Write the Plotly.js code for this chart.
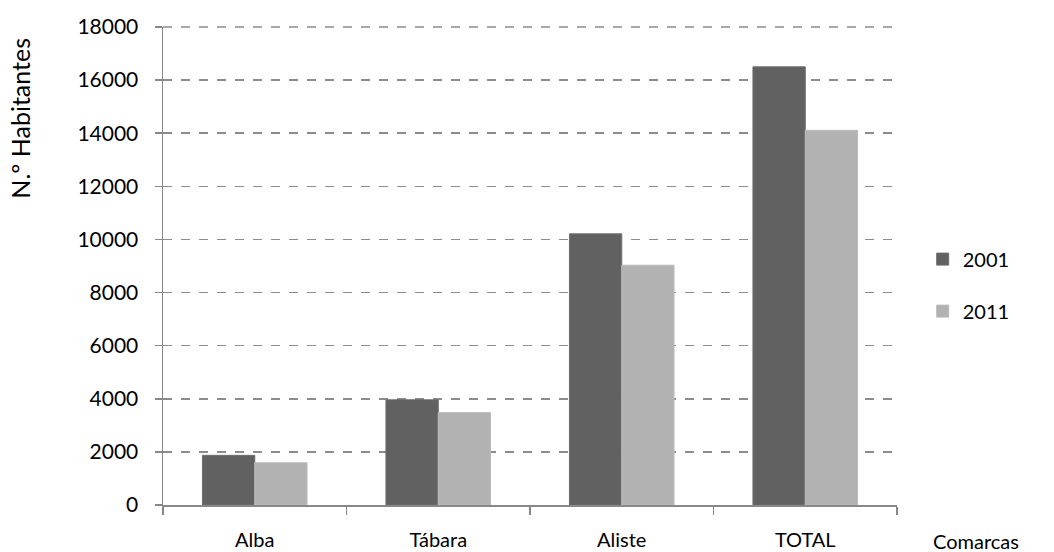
<!DOCTYPE html>
<html>
<head>
<meta charset="utf-8">
<script src="https://cdn.plot.ly/plotly-3.0.1.min.js"></script>
<style>html,body{margin:0;padding:0;background:#fff;}#chart{width:1054px;height:552px;}</style>
</head>
<body>
<div id="chart"></div>
<script>
const categories = ["Alba", "Tábara", "Aliste", "TOTAL"];
const values2001 = [1870, 3960, 10210, 16500];
const values2011 = [1590, 3480, 9030, 14110];
const seriesNames = ["2001", "2011"];
const yTicks = [0, 2000, 4000, 6000, 8000, 10000, 12000, 14000, 16000, 18000];

const FONT = "Lato, 'Open Sans', sans-serif";
const traces = [
  {type: "bar", name: seriesNames[0], x: categories, y: values2001,
   marker: {color: "#616161", line: {color: "#6e6e6e", width: 1}}, legendgroup: "a"},
  {type: "bar", name: seriesNames[1], x: categories, y: values2011,
   marker: {color: "#b2b2b2", line: {color: "#bcbcbc", width: 1}}, legendgroup: "b"}
];

const layout = {
  width: 1054, height: 552,
  margin: {l: 163, r: 157, t: 27, b: 47},
  paper_bgcolor: "#fff", plot_bgcolor: "#fff",
  barmode: "group", bargap: 0.43, bargroupgap: 0,
  font: {family: FONT, size: 20, color: "#000"},
  showlegend: true,
  legend: {x: 1.035, xanchor: "left", xref: "paper", y: 0.46, yanchor: "middle",
    traceorder: "grouped", tracegroupgap: 23, font: {size: 20, family: FONT},
    itemwidth: 30, bgcolor: "rgba(0,0,0,0)"},
  xaxis: {type: "category", showgrid: false, showline: true, linecolor: "#888", linewidth: 1.5,
    ticks: "outside", tickson: "boundaries", ticklen: 8, tickcolor: "#888", tickwidth: 1.5,
    tickfont: {size: 20, family: FONT}, ticklabelstandoff: 16, zeroline: false},
  yaxis: {range: [0, 18000], tickvals: yTicks, ticktext: yTicks.map(String),
    showline: true, linecolor: "#888", linewidth: 1.5,
    ticks: "outside", ticklen: 7, tickcolor: "#888", tickwidth: 1.5,
    showgrid: true, gridcolor: "#8c8c8c", gridwidth: 1.5, griddash: "dash",
    zeroline: false, tickfont: {size: 21, family: FONT}, ticklabelstandoff: 12},
  shapes: [
    {type: "line", xref: "paper", yref: "paper", x0: 0, x1: 1, y0: 1, y1: 1,
     line: {color: "#8c8c8c", width: 1.5, dash: "dash"}, layer: "above"}
  ],
  annotations: [
    {text: "N.º Habitantes", xref: "paper", yref: "paper", x: -0.195, y: 0.81,
     xanchor: "center", yanchor: "middle", textangle: -90, showarrow: false,
     font: {size: 25, family: FONT}},
    {text: "Comarcas", xref: "paper", yref: "paper", x: 1.047, y: -0.075,
     xanchor: "left", yanchor: "middle", showarrow: false, font: {size: 20, family: FONT}}
  ]
};

Plotly.newPlot("chart", traces, layout, {displayModeBar: false, staticPlot: true});
</script>
</body>
</html>
